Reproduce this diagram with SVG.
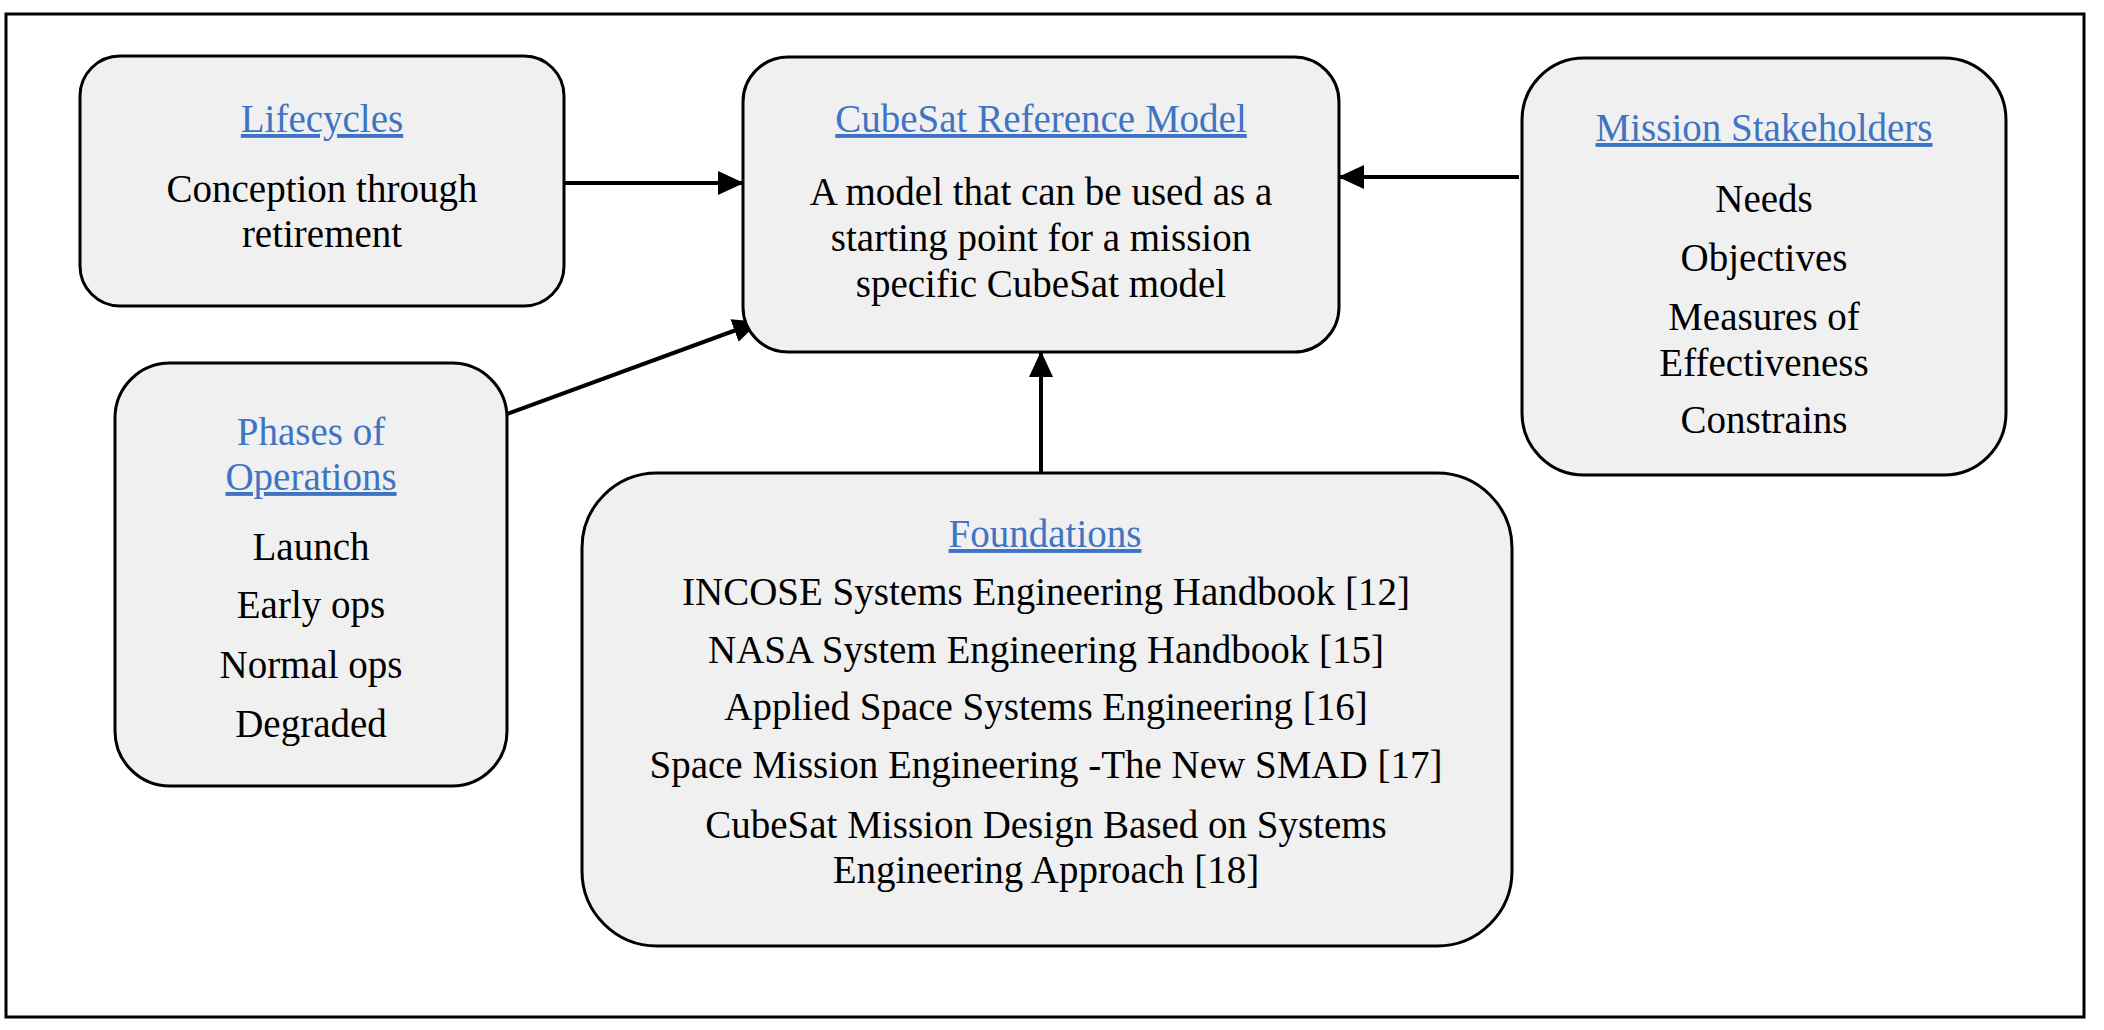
<svg xmlns="http://www.w3.org/2000/svg" width="2104" height="1030" viewBox="0 0 2104 1030">
<style>
.box{fill:#f0f0f0;stroke:#000;stroke-width:3}
.t{font-family:"Liberation Serif","Times New Roman",serif;font-size:39px;text-anchor:middle;fill:#000}
.h{fill:#3e74c4}
.u{text-decoration:underline}
.c{stroke:#000;stroke-width:4;fill:none;marker-end:url(#ah)}
</style>
<defs>
<marker id="ah" markerUnits="userSpaceOnUse" markerWidth="26" markerHeight="24" refX="25" refY="12" orient="auto">
<path d="M0,0 L26,12 L0,24 Z" fill="#000"/>
</marker>
</defs>
<rect x="0" y="0" width="2104" height="1030" fill="#fff"/>
<rect x="6" y="14" width="2078" height="1003" fill="none" stroke="#000" stroke-width="3"/>
<g id="connectors">
<path class="c" d="M564,183 L743,183"/>
<path class="c" d="M1519,177 L1339,177"/>
<path class="c" d="M507,414 L758,322"/>
<path class="c" d="M1041,473 L1041,352"/>
</g>
<g id="lifecycles">
<rect class="box" x="80" y="56" width="484" height="250" rx="40"/>
<text class="t h u" x="322" y="132">Lifecycles</text>
<text class="t" x="322" y="202">Conception through</text>
<text class="t" x="322" y="247">retirement</text>
</g>
<g id="cubesat">
<rect class="box" x="743" y="57" width="596" height="295" rx="45"/>
<text class="t h u" x="1041" y="132">CubeSat Reference Model</text>
<text class="t" x="1041" y="205">A model that can be used as a</text>
<text class="t" x="1041" y="251">starting point for a mission</text>
<text class="t" x="1041" y="297">specific CubeSat model</text>
</g>
<g id="stakeholders">
<rect class="box" x="1522" y="58" width="484" height="417" rx="62"/>
<text class="t h u" x="1764" y="141">Mission Stakeholders</text>
<text class="t" x="1764" y="212">Needs</text>
<text class="t" x="1764" y="271">Objectives</text>
<text class="t" x="1764" y="330">Measures of</text>
<text class="t" x="1764" y="376">Effectiveness</text>
<text class="t" x="1764" y="433">Constrains</text>
</g>
<g id="phases">
<rect class="box" x="115" y="363" width="392" height="423" rx="55"/>
<text class="t h" x="311" y="445">Phases of</text>
<text class="t h u" x="311" y="490">Operations</text>
<text class="t" x="311" y="560">Launch</text>
<text class="t" x="311" y="618">Early ops</text>
<text class="t" x="311" y="678">Normal ops</text>
<text class="t" x="311" y="737">Degraded</text>
</g>
<g id="foundations">
<rect class="box" x="582" y="473" width="930" height="473" rx="75"/>
<text class="t h u" x="1045" y="547">Foundations</text>
<text class="t" x="1046" y="605">INCOSE Systems Engineering Handbook [12]</text>
<text class="t" x="1046" y="663">NASA System Engineering Handbook [15]</text>
<text class="t" x="1046" y="720">Applied Space Systems Engineering [16]</text>
<text class="t" x="1046" y="778">Space Mission Engineering -The New SMAD [17]</text>
<text class="t" x="1046" y="838">CubeSat Mission Design Based on Systems</text>
<text class="t" x="1046" y="883">Engineering Approach [18]</text>
</g>
</svg>
